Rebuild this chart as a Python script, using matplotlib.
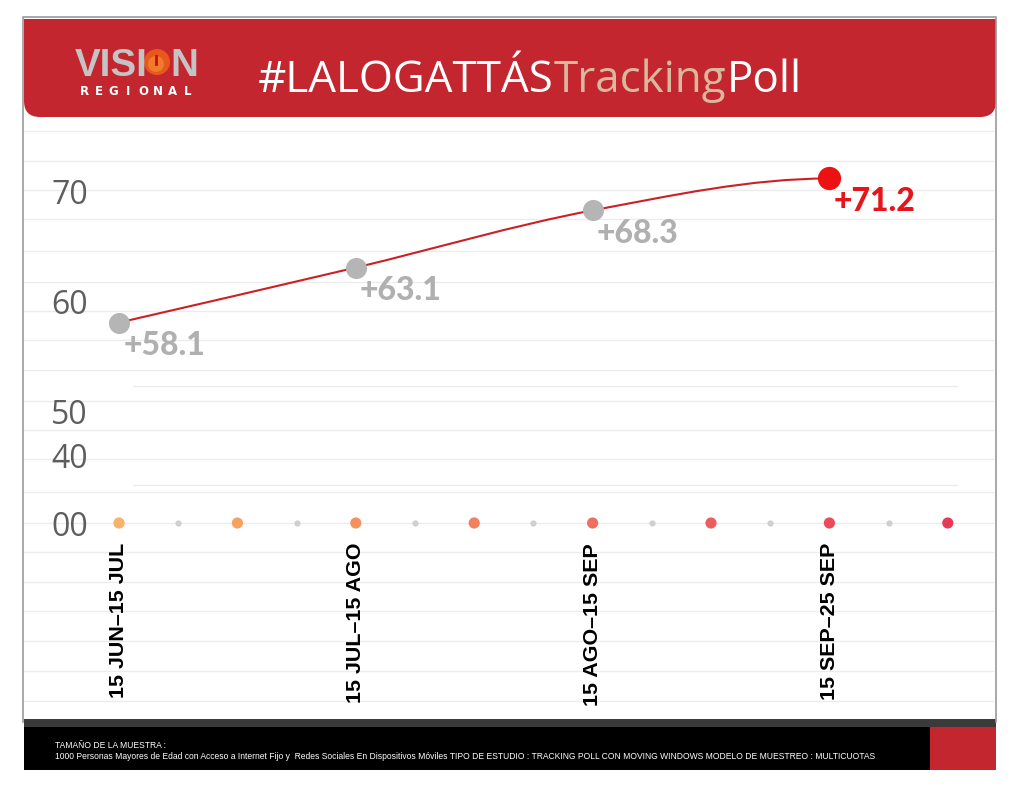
import numpy as np
import matplotlib
matplotlib.use('Agg')
import matplotlib.pyplot as plt
from matplotlib.patches import Rectangle, FancyBboxPatch, Circle, PathPatch
from matplotlib.path import Path

# datos
periods = ['15 JUN–15 JUL', '15 JUL–15 AGO', '15 AGO–15 SEP', '15 SEP–25 SEP']
values = [58.1, 63.1, 68.3, 71.2]
value_labels = ['+58.1', '+63.1', '+68.3', '+71.2']
y_ticks_top = [50, 60, 70]
y_labels_low = ['00', '40']
title_parts = ['#LALOGATTÁS', 'Tracking', 'Poll']
footer_lines = ['TAMAÑO DE LA MUESTRA :',
                '1000 Personas Mayores de Edad con Acceso a Internet Fijo y  Redes Sociales En Dispositivos Móviles '
                'TIPO DE ESTUDIO : TRACKING POLL CON MOVING WINDOWS MODELO DE MUESTREO : MULTICUOTAS']

RED = '#C3262E'
TAN = '#D8B99E'
W, H = 1024, 794
SANS = 'Liberation Sans'

fig = plt.figure(figsize=(W / 100, H / 100), dpi=100)
fig.patch.set_facecolor('white')

# fondo en pixeles
bg = fig.add_axes([0, 0, 1, 1])
bg.set_xlim(0, W)
bg.set_ylim(H, 0)
bg.axis('off')
r = fig.canvas.get_renderer()


def fit_size(txt, width, **kw):
    # tamaño de letra para que el texto mida "width" pixeles
    p = bg.text(0, 0, txt, fontsize=10, **kw)
    w = p.get_window_extent(renderer=r).width
    p.remove()
    return 10 * width / w


# lineas de fondo
for gy in [131, 161, 190, 219, 251, 282, 311, 340, 370, 401, 430, 459, 492, 523, 552, 582, 611, 641, 671, 701]:
    bg.plot([24, 993], [gy, gy], color='#ececec', lw=1, zorder=0)
for gy in [386, 485]:
    bg.plot([133, 957], [gy, gy], color='#ececec', lw=1, zorder=0)

# marco
bg.plot([23, 23, 996, 996], [722, 17, 17, 722], color='#9a9a9a', lw=1.2)

# encabezado
bg.add_patch(FancyBboxPatch((24, 19), 972, 98, boxstyle='round,pad=0,rounding_size=16',
                            facecolor=RED, edgecolor='none'))
bg.add_patch(Rectangle((24, 19), 972, 50, facecolor=RED, edgecolor='none'))

# logo
lsize = fit_size('VISI', 72, family=SANS, weight='bold')
bg.text(75, 76, 'VISI', family=SANS, weight='bold', fontsize=lsize, color='#c4c4c4', va='baseline')
bg.add_patch(Circle((157, 62), 13, facecolor='#E8581C', edgecolor='none'))
bg.add_patch(Circle((156, 64), 8, facecolor='#F07B2C', edgecolor='none'))
bg.plot([156, 156], [56, 64], color='#b8141b', lw=2)
bg.text(170, 76, 'N', family=SANS, weight='bold', fontsize=lsize, color='#c4c4c4', va='baseline')
for i, ch in enumerate('REGIONAL'):
    bg.text(84 + i * 14.8, 95, ch, family='DejaVu Sans', weight='bold', fontsize=8.5,
            color='white', ha='center', va='baseline')

# titulo
tsize = fit_size(''.join(title_parts), 542, family='Open Sans')
x = 258
for part, col in zip(title_parts, ['white', TAN, 'white']):
    t = bg.text(x, 92, part, family='Open Sans', fontsize=tsize, color=col, va='baseline')
    x += t.get_window_extent(renderer=r).width

# pie
bg.add_patch(Rectangle((24, 719), 972, 8, facecolor='#3a3a3a', edgecolor='none'))
bg.add_patch(Rectangle((24, 727), 906, 43, facecolor='black', edgecolor='none'))
bg.add_patch(Rectangle((930, 727), 66, 43, facecolor=RED, edgecolor='none'))
fsize = fit_size(footer_lines[1], 815, family=SANS)
bg.text(55, 748, footer_lines[0], family=SANS, fontsize=fsize, color='white', va='baseline')
bg.text(55, 759, footer_lines[1], family=SANS, fontsize=fsize, color='white', va='baseline')

# escalas
X0, STEP = 119, 118.4
PXU, V0, P0 = 11.0, 62.957, 269.14


def px_axes(l, t, rgt, b):
    a = fig.add_axes([l / W, 1 - b / H, (rgt - l) / W, (b - t) / H])
    a.set_xlim((l - X0) / STEP, (rgt - X0) / STEP)
    a.patch.set_alpha(0)
    for s in a.spines.values():
        s.set_visible(False)
    return a


# grafica de linea
ax = px_axes(24, 120, 993, 470)
ax.set_ylim(V0 - (470 - P0) / PXU, V0 + (P0 - 120) / PXU)
xs = np.arange(len(values)) * 2.0
ys = np.array(values)

# curva suave (bezier tipo catmull-rom)
pts = np.column_stack([xs, ys])
tang = np.zeros_like(pts)
tang[0] = pts[1] - pts[0]
tang[1:-1] = (pts[2:] - pts[:-2]) / 2
tang[-1] = [pts[-1, 0] - pts[-2, 0], 0]
verts = [pts[0]]
codes = [Path.MOVETO]
for i in range(len(pts) - 1):
    verts += [pts[i] + tang[i] / 3, pts[i + 1] - tang[i + 1] / 3, pts[i + 1]]
    codes += [Path.CURVE4] * 3
ax.add_patch(PathPatch(Path(verts, codes), fill=False, edgecolor='#CC1F26', lw=1.5, zorder=2))

ax.scatter(xs[:-1], ys[:-1], s=230, color='#B5B5B5', zorder=3, linewidths=0)
ax.scatter(xs[-1:], ys[-1:], s=280, color='#EE1111', zorder=3, linewidths=0)
for xv, yv, lab, col in zip(xs, ys, value_labels, ['#B0B0B0'] * 3 + ['#E8141B']):
    ax.annotate(lab, (xv, yv), xytext=(3, -6), textcoords='offset points', ha='left', va='top',
                family='Lato', weight='black', fontsize=23, color=col)

ax.set_xticks([])
ax.set_yticks(y_ticks_top)
ax.set_yticklabels([str(v) for v in y_ticks_top], family='Open Sans', fontsize=23, color='#5e5e5e')
ax.tick_params(axis='y', length=0, pad=-46)

# fila de puntos y etiquetas
bx = px_axes(24, 440, 993, 540)
bx.set_ylim(-17 / 67, 1 + 16 / 67)
n_big = len(periods) * 2
big_x = np.arange(n_big)
small_x = np.arange(n_big - 1) + 0.5
dot_colors = ['#F7B26C', '#F5A263', '#F3925F', '#F0805E', '#EE6F5F', '#EC5E5D', '#EA4C5B', '#E63B57']
bx.scatter(small_x, np.zeros_like(small_x), s=20, color='#CFCFCF', linewidths=0, clip_on=False)
bx.scatter(big_x, np.zeros_like(big_x), s=65, color=dot_colors, linewidths=0, clip_on=False)
bx.set_yticks([0, 1])
bx.set_yticklabels(y_labels_low, family='Open Sans', fontsize=23, color='#5e5e5e')
bx.tick_params(axis='y', length=0, pad=-46)
xsize = fit_size(periods[0], 155, family=SANS, weight='bold')
bx.set_xticks(np.arange(len(periods)) * 2)
bx.set_xticklabels(periods, rotation=90, family=SANS, weight='bold', fontsize=xsize, color='black')
bx.tick_params(axis='x', length=0, pad=2)

fig.savefig('out.png', dpi=100)
